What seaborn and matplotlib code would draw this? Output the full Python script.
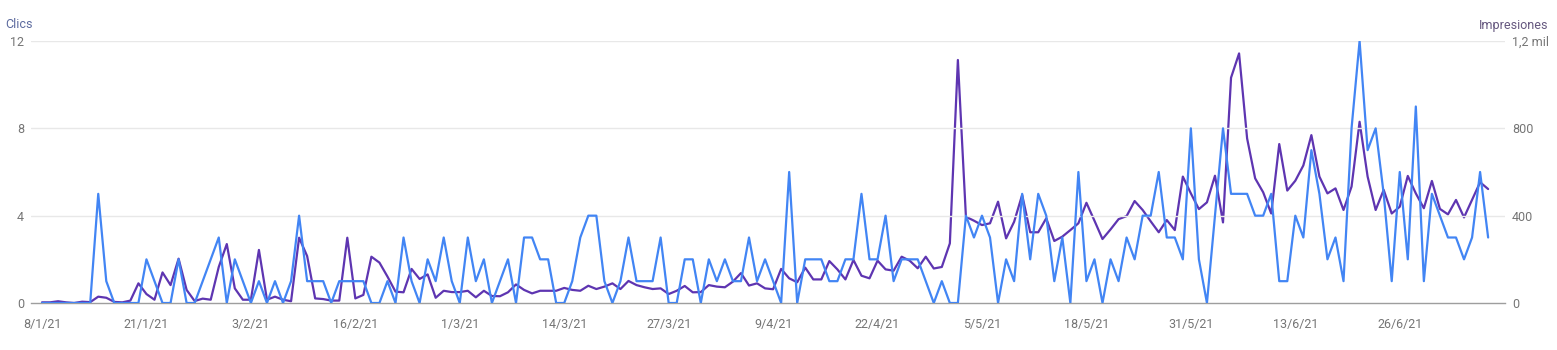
import matplotlib
matplotlib.use("Agg")
import matplotlib.pyplot as plt
import seaborn as sns
import pandas as pd

# ---- data ----
start_date = "2021-01-08"
clicks = [
    0, 0, 0, 0, 0, 0, 0, 5, 1, 0, 0, 0, 0, 2, 1, 0, 0, 2, 0, 0,
    1, 2, 3, 0, 2, 1, 0, 1, 0, 1, 0, 1, 4, 1, 1, 1, 0, 1, 1, 1,
    1, 0, 0, 1, 0, 3, 1, 0, 2, 1, 3, 1, 0, 3, 1, 2, 0, 1, 2, 0,
    3, 3, 2, 2, 0, 0, 1, 3, 4, 4, 1, 0, 1, 3, 1, 1, 1, 3, 0, 0,
    2, 2, 0, 2, 1, 2, 1, 1, 3, 1, 2, 1, 0, 6, 0, 2, 2, 2, 1, 1,
    2, 2, 5, 2, 2, 4, 1, 2, 2, 2, 1, 0, 1, 0, 0, 4, 3, 4, 3, 0,
    2, 1, 5, 2, 5, 4, 1, 3, 0, 6, 1, 2, 0, 2, 1, 3, 2, 4, 4, 6,
    3, 3, 2, 8, 2, 0, 4, 8, 5, 5, 5, 4, 4, 5, 1, 1, 4, 3, 7, 5,
    2, 3, 1, 8, 12, 7, 8, 5, 1, 6, 2, 9, 1, 5, 4, 3, 3, 2, 3, 6,
    3,
]
impressions = [
    3, 3, 8, 3, 0, 6, 4, 29, 24, 5, 3, 11, 90, 41, 15, 140, 82, 203, 60, 9,
    20, 15, 165, 270, 67, 15, 15, 243, 15, 29, 15, 8, 299, 215, 21, 18, 11, 11, 299, 21,
    37, 212, 185, 121, 52, 49, 156, 110, 131, 24, 56, 50, 50, 56, 26, 56, 32, 31, 49, 85,
    60, 44, 56, 56, 56, 69, 60, 56, 79, 64, 75, 90, 64, 101, 82, 72, 64, 67, 41, 56,
    78, 49, 50, 82, 75, 72, 98, 137, 80, 90, 67, 63, 156, 113, 95, 162, 108, 108, 192, 154,
    108, 197, 125, 113, 194, 154, 148, 212, 194, 159, 212, 158, 165, 273, 1113, 395, 377, 357, 365, 464,
    296, 372, 495, 324, 324, 388, 284, 304, 334, 365, 459, 377, 293, 337, 384, 398, 467, 426, 374, 324,
    380, 334, 579, 502, 430, 461, 583, 369, 1032, 1143, 754, 571, 507, 410, 728, 515, 560, 630, 769, 579,
    502, 525, 426, 533, 830, 579, 426, 518, 410, 441, 582, 502, 434, 559, 431, 406, 472, 392, 472, 553,
    522,
]
x_tick_labels = ["8/1/21", "21/1/21", "3/2/21", "16/2/21", "1/3/21", "14/3/21", "27/3/21",
                 "9/4/21", "22/4/21", "5/5/21", "18/5/21", "31/5/21", "13/6/21", "26/6/21"]
left_ticks = [0, 4, 8, 12]
left_tick_labels = ["0", "4", "8", "12"]
right_ticks = [0, 400, 800, 1200]
right_tick_labels = ["0", "400", "800", "1,2 mil"]

dates = pd.date_range(start_date, periods=len(clicks), freq="D")
df = pd.DataFrame({"fecha": dates, "clics": clicks, "impresiones": impressions})
tick_dates = pd.to_datetime(x_tick_labels, format="%d/%m/%y")

# ---- style ----
sns.set_style("white")
plt.rcParams["font.family"] = ["Roboto", "DejaVu Sans"]

BLUE = "#4285f4"
PURPLE = "#5e35b1"
TICK = "#757575"

fig = plt.figure(figsize=(15.57, 3.5), dpi=100)
ax = fig.add_axes([31 / 1557, 47 / 350, (1505 - 31) / 1557, (303 - 41) / 350])
ax2 = ax.twinx()

for y in [4, 8, 12]:
    ax.axhline(y, color="#e8e8e8", lw=1.0, zorder=0)

sns.lineplot(data=df, x="fecha", y="impresiones", ax=ax2, color=PURPLE, lw=1.6, zorder=2)
sns.lineplot(data=df, x="fecha", y="clics", ax=ax, color=BLUE, lw=1.6, zorder=3)

# make blue (left axes) draw above purple (twin axes)
ax.set_zorder(ax2.get_zorder() + 1)
ax.patch.set_visible(False)

pad = pd.Timedelta(days=1.37)
ax.set_xlim(dates[0] - pad, dates[-1] + pd.Timedelta(days=2.1))
ax.set_ylim(0, 12)
ax2.set_ylim(0, 1200)

ax.set_yticks(left_ticks)
ax.set_yticklabels(left_tick_labels)
ax2.set_yticks(right_ticks)
ax2.set_yticklabels(right_tick_labels)
ax.set_xticks(tick_dates)
ax.set_xticklabels(x_tick_labels)

for a in (ax, ax2):
    a.set_xlabel("")
    a.set_ylabel("")
    for s in a.spines.values():
        s.set_visible(False)
    a.tick_params(length=0, labelsize=9, labelcolor=TICK)
ax.tick_params(axis="y", pad=5)
ax2.tick_params(axis="y", pad=5)
ax.tick_params(axis="x", pad=11)

ax.spines["bottom"].set_visible(True)
ax.spines["bottom"].set_color("#9e9e9e")
ax.spines["bottom"].set_linewidth(1.0)

fig.text(5 / 1557, 1 - 25 / 350, "Clics", ha="left", va="center", fontsize=9, color="#5c6a9e")
fig.text(1548 / 1557, 1 - 25 / 350, "Impresiones", ha="right", va="center", fontsize=9, color="#65577f")

fig.savefig("out.png", dpi=100)
